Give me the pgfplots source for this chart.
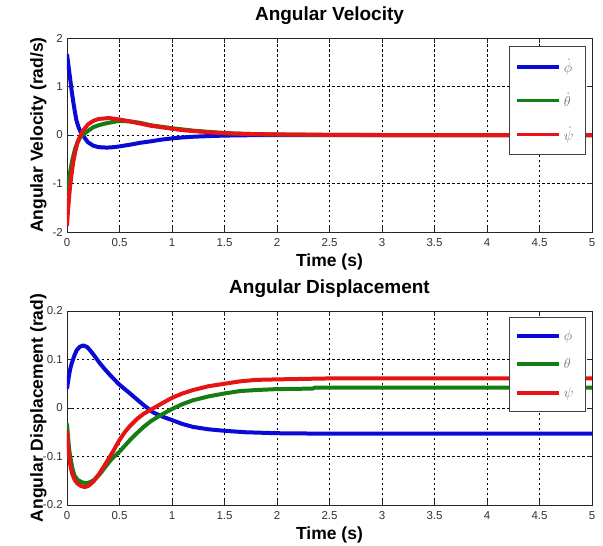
\documentclass[border=0pt]{standalone}
\usepackage{fontspec}
\setmainfont{Liberation Sans}
\usepackage{pgfplots}
\pgfplotsset{compat=1.18}

\definecolor{mblue}{RGB}{10,10,215}
\definecolor{mgreen}{RGB}{20,125,20}
\definecolor{mred}{RGB}{230,20,20}

% legend entry: fixed width and height so rows space evenly
\newcommand{\legtxt}[1]{\makebox[16bp][l]{\rule[-3bp]{0pt}{14bp}\color{black!55}#1}}

\pgfplotsset{
  mstyle/.style={
    scale only axis, width=525bp, height=194bp,
    xmin=0, xmax=5,
    xtick={0,0.5,1,1.5,2,2.5,3,3.5,4,4.5,5},
    xticklabels={0,0.5,1,1.5,2,2.5,3,3.5,4,4.5,5},
    grid=major,
    grid style={dash pattern=on 2.5bp off 2.5bp, black, line width=0.7bp},
    tick align=inside, major tick length=5bp,
    axis line style={black!85, line width=0.9bp},
    tick style={black!85, line width=0.8bp},
    ticklabel style={font=\fontsize{11.5bp}{13bp}\selectfont, text=black!80},
    xticklabel style={inner sep=0pt, yshift=-6bp},
    yticklabel style={inner sep=0pt, xshift=-4bp},
    title style={font=\bfseries\fontsize{19bp}{21bp}\selectfont,
      at={([yshift=12bp]axis description cs:0.5,1)}, anchor=base},
    xlabel style={font=\bfseries\fontsize{17.5bp}{19bp}\selectfont,
      at={([yshift=-34.5bp]axis description cs:0.5,0)}, anchor=base},
    ylabel style={font=\bfseries\fontsize{17.5bp}{19bp}\selectfont,
      at={([xshift=-24bp]axis description cs:0,0.5)}, anchor=base},
    every axis plot/.append style={line width=4bp, line join=round},
    legend image code/.code={\draw[#1, line width=3.6bp] (0bp,0bp) -- (42bp,0bp);},
    legend cell align=left,
    legend style={draw=black!75, line width=0.9bp, fill=white,
      anchor=north east, inner xsep=6bp, inner ysep=13bp,
      column sep=3bp, nodes={inner sep=0pt},
      font=\fontsize{14bp}{16bp}\selectfont},
  }
}

\begin{document}
\begin{tikzpicture}
\useasboundingbox (-67bp,-314bp) rectangle (536bp,232bp);

\begin{axis}[mstyle, at={(0,0)},
  title={Angular Velocity},
  xlabel={Time (s)}, ylabel={Angular Velocity (rad/s)},
  ymin=-2, ymax=2, ytick={-2,-1,0,1,2}, yticklabels={-2,-1,0,1,2},
  legend style={at={(0.989,0.959)}, row sep=19bp}]
\addplot[color=mblue] coordinates {
 (0,1.67) (0.01,1.5) (0.02,1.33) (0.03,1.16) (0.045,0.9) (0.06,0.68)
 (0.075,0.48) (0.09,0.3) (0.11,0.16) (0.13,0.06) (0.15,0.0) (0.175,-0.08)
 (0.2,-0.15) (0.25,-0.22) (0.3,-0.25) (0.38,-0.26) (0.45,-0.25) (0.5,-0.235)
 (0.6,-0.2) (0.7,-0.16) (0.8,-0.13) (0.9,-0.095) (1.0,-0.07) (1.1,-0.05)
 (1.2,-0.036) (1.4,-0.018) (1.6,-0.008) (1.8,-0.003) (2.0,0) (5,0)
};
\addlegendentry{\legtxt{$\dot{\phi}$}}
\addplot[color=mgreen] coordinates {
 (0,-1.22) (0.01,-1.05) (0.02,-0.9) (0.035,-0.7) (0.05,-0.52) (0.075,-0.3)
 (0.1,-0.15) (0.125,-0.05) (0.15,0.0) (0.19,0.07) (0.25,0.16) (0.3,0.2)
 (0.35,0.23) (0.44,0.27) (0.5,0.29) (0.6,0.28) (0.7,0.25) (0.8,0.2)
 (0.9,0.17) (1.0,0.14) (1.2,0.09) (1.4,0.055) (1.6,0.03) (1.8,0.018)
 (2.0,0.01) (2.4,0.003) (2.8,0) (5,0)
};
\addlegendentry{\legtxt{$\dot{\theta}$}}
\addplot[color=mred] coordinates {
 (0,-1.87) (0.01,-1.55) (0.02,-1.28) (0.03,-1.05) (0.045,-0.78) (0.06,-0.55)
 (0.08,-0.33) (0.1,-0.16) (0.125,-0.02) (0.15,0.08) (0.2,0.22) (0.25,0.29)
 (0.3,0.33) (0.4,0.35) (0.5,0.32) (0.6,0.28) (0.7,0.235) (0.8,0.19)
 (0.9,0.16) (1.0,0.13) (1.1,0.1) (1.27,0.07) (1.4,0.05) (1.58,0.03)
 (1.75,0.02) (2.0,0.012) (2.2,0.008) (2.6,0.003) (3,0) (5,0)
};
\addlegendentry{\legtxt{$\dot{\psi}$}}
\end{axis}

\begin{axis}[mstyle, at={(0,-273bp)},
  title={Angular Displacement},
  xlabel={Time (s)}, ylabel={Angular Displacement (rad)},
  ymin=-0.2, ymax=0.2, ytick={-0.2,-0.1,0,0.1,0.2},
  yticklabels={-0.2,-0.1,0,0.1,0.2},
  legend style={at={(0.989,0.969)}, row sep=16bp, inner ysep=12bp}]
\addplot[color=mblue] coordinates {
 (0,0.040) (0.015,0.062) (0.03,0.08) (0.045,0.092) (0.07,0.108) (0.092,0.119)
 (0.12,0.126) (0.155,0.129) (0.19,0.126) (0.22,0.119) (0.26,0.108)
 (0.31,0.093) (0.36,0.08) (0.41,0.068) (0.45,0.059) (0.5,0.048) (0.55,0.039)
 (0.6,0.03) (0.67,0.017) (0.73,0.006) (0.82,-0.009) (0.9,-0.017)
 (1.0,-0.025) (1.1,-0.033) (1.2,-0.039) (1.35,-0.044) (1.5,-0.047)
 (1.7,-0.05) (2.0,-0.052) (2.5,-0.053) (5,-0.053)
};
\addlegendentry{\legtxt{$\phi$}}
\addplot[color=mgreen] coordinates {
 (0,-0.032) (0.01,-0.06) (0.02,-0.085) (0.035,-0.105) (0.05,-0.123)
 (0.07,-0.139) (0.1,-0.148) (0.14,-0.153) (0.18,-0.155) (0.22,-0.153)
 (0.26,-0.148) (0.31,-0.137) (0.36,-0.123) (0.41,-0.109) (0.45,-0.1)
 (0.5,-0.09) (0.55,-0.078) (0.6,-0.066) (0.67,-0.051) (0.73,-0.039)
 (0.8,-0.027) (0.89,-0.015) (1.0,-0.002) (1.1,0.008) (1.2,0.016)
 (1.35,0.024) (1.5,0.03) (1.65,0.035) (1.8,0.037) (2.0,0.039) (2.34,0.04)
 (2.36,0.042) (5,0.042)
};
\addlegendentry{\legtxt{$\theta$}}
\addplot[color=mred] coordinates {
 (0,-0.046) (0.01,-0.075) (0.02,-0.101) (0.035,-0.122) (0.05,-0.136)
 (0.075,-0.149) (0.1,-0.156) (0.135,-0.161) (0.17,-0.163) (0.2,-0.161)
 (0.25,-0.152) (0.3,-0.138) (0.35,-0.121) (0.41,-0.1) (0.45,-0.085)
 (0.5,-0.066) (0.55,-0.05) (0.6,-0.037) (0.67,-0.022) (0.73,-0.012)
 (0.81,-0.002) (0.9,0.009) (1.0,0.021) (1.1,0.03) (1.2,0.037) (1.35,0.045)
 (1.5,0.05) (1.65,0.055) (1.8,0.058) (2.0,0.059) (2.5,0.061) (5,0.061)
};
\addlegendentry{\legtxt{$\psi$}}
\end{axis}
\end{tikzpicture}
\end{document}
